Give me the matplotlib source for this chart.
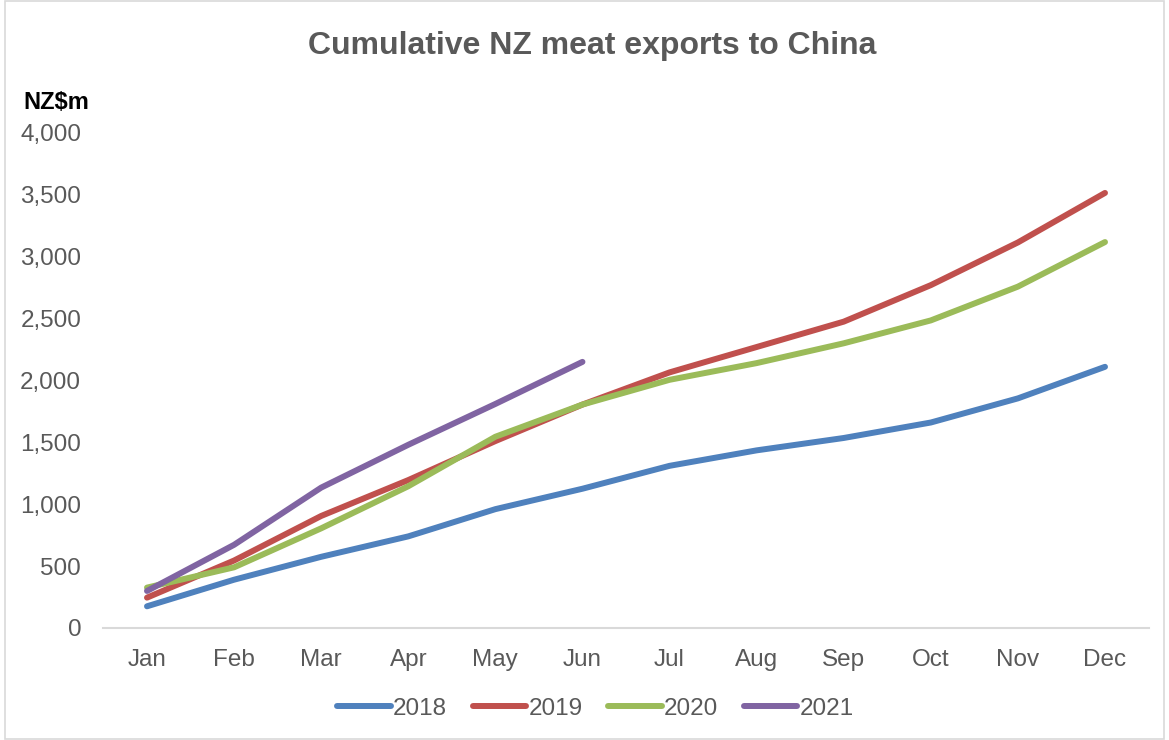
import matplotlib
matplotlib.use("Agg")
import matplotlib.pyplot as plt
from matplotlib.patches import Rectangle

# DATA (NZ$m, cumulative)
# =============================================================================
months = ["Jan", "Feb", "Mar", "Apr", "May", "Jun",
          "Jul", "Aug", "Sep", "Oct", "Nov", "Dec"]
exp_2018 = [175, 390, 575, 740, 960, 1125, 1310, 1435, 1535, 1660, 1855, 2110]
exp_2019 = [245, 545, 905, 1195, 1510, 1805, 2065, 2270, 2475, 2770, 3115, 3515]
exp_2020 = [326, 490, 805, 1145, 1545, 1805, 2005, 2140, 2300, 2485, 2758, 3118]
exp_2021 = [299, 672, 1134, 1480, 1810, 2150]
yticks = [0, 500, 1000, 1500, 2000, 2500, 3000, 3500, 4000]
# =============================================================================

plt.rcParams['font.family'] = ['Liberation Sans', 'DejaVu Sans']
grey = '#595959'

fig = plt.figure(figsize=(11.69, 7.4), dpi=100)
fig.patches.append(Rectangle((0.004, 0.002), 0.992, 0.996, transform=fig.transFigure,
                             fill=False, edgecolor='#D9D9D9', linewidth=1.2))
ax = fig.add_axes([0.0885, 0.1514, 0.894, 0.669])

series = [("2018", exp_2018, '#4F81BD'),
          ("2019", exp_2019, '#C0504D'),
          ("2020", exp_2020, '#9BBB59'),
          ("2021", exp_2021, '#8064A2')]
for name, vals, col in series:
    ax.plot(range(len(vals)), vals, color=col, linewidth=4.3,
            solid_capstyle='round', solid_joinstyle='round', label=name)

ax.set_xlim(-0.5, 11.5)
ax.set_ylim(0, 4000)
ax.set_xticks(range(len(months)))
ax.set_xticklabels(months)
ax.set_yticks(yticks)
ax.set_yticklabels(["{:,}".format(v) for v in yticks])
ax.tick_params(length=0, labelsize=17.5, labelcolor=grey)
ax.tick_params(axis='x', pad=15)
ax.tick_params(axis='y', pad=16)

for s in ['top', 'right', 'left']:
    ax.spines[s].set_visible(False)
ax.spines['bottom'].set_color('#D9D9D9')
ax.spines['bottom'].set_linewidth(1.5)

fig.text(0.5065, 0.938, "Cumulative NZ meat exports to China", ha='center', va='center',
         fontsize=23, fontweight='bold', color=grey)
fig.text(0.020, 0.862, "NZ$m", ha='left', va='center', fontsize=17, fontweight='bold',
         color='black')

leg = fig.legend(loc='center', bbox_to_anchor=(0.5094, 0.042), ncol=4, frameon=False,
                 fontsize=17.5, handlelength=2.2, handletextpad=0.1, columnspacing=1.05)
for t in leg.get_texts():
    t.set_color(grey)

fig.savefig("out.png", dpi=100)
